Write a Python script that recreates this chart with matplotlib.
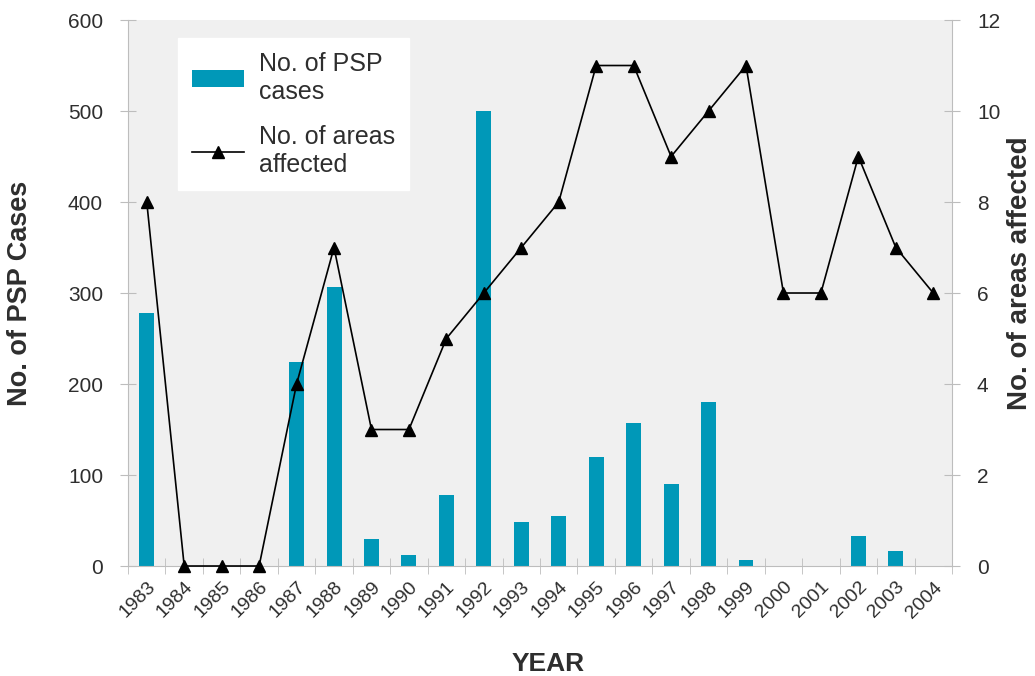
import numpy as np
import matplotlib.pyplot as plt

plt.rcParams['font.family'] = ['Liberation Sans', 'DejaVu Sans']

years = [str(y) for y in range(1983, 2005)]
psp_cases = [278, 0, 0, 0, 224, 307, 30, 12, 78, 500, 48, 55,
             120, 157, 90, 180, 7, 0, 0, 33, 17, 0]
areas = [8, 0, 0, 0, 4, 7, 3, 3, 5, 6, 7, 8,
         11, 11, 9, 10, 11, 6, 6, 9, 7, 6]

teal = '#0098b8'
grey = '#bdbdbd'
txt = '#2e2e2e'

fig = plt.figure(figsize=(10.35, 6.76), dpi=100)
ax = fig.add_axes([0.1237, 0.1627, 0.7961, 0.8077])
ax.set_facecolor('#f0f0f0')

x = np.arange(len(years))
bars = ax.bar(x, psp_cases, width=0.4, color=teal, zorder=2)
ax.set_xlim(-0.5, len(years) - 0.5)
ax.set_ylim(0, 600)
ax.set_yticks(range(0, 601, 100))

ax2 = ax.twinx()
line, = ax2.plot(x, areas, color='black', lw=1.2, marker='^', ms=8,
                 zorder=3, clip_on=False)
ax2.set_ylim(0, 12)
ax2.set_yticks(range(0, 13, 2))

for a in (ax, ax2):
    for s in a.spines.values():
        s.set_visible(False)
ax.spines['left'].set_visible(True)
ax.spines['left'].set_color(grey)
ax.spines['bottom'].set_visible(True)
ax.spines['bottom'].set_color(grey)
ax2.spines['right'].set_visible(True)
ax2.spines['right'].set_color(grey)

ax.set_xticks(x)
ax.set_xticklabels(years, rotation=45, ha='right', rotation_mode='anchor',
                   fontsize=14, color=txt)
ax.tick_params(axis='x', length=0, pad=9)
ax.set_xticks(np.arange(-0.5, len(years), 1), minor=True)
ax.tick_params(axis='x', which='minor', length=12, direction='inout',
               color=grey)
ax.tick_params(axis='y', labelsize=15, labelcolor=txt, color=grey,
               length=12, direction='inout', pad=12)
ax2.tick_params(axis='y', labelsize=15, labelcolor=txt, color=grey,
                length=12, direction='inout', pad=12)

ax.set_ylabel('No. of PSP Cases', fontsize=19.5, fontweight='bold', color=txt)
ax.yaxis.set_label_coords(-0.1153, 0.5)
ax2.set_ylabel('No. of areas affected', fontsize=20, fontweight='bold',
               color=txt, rotation=90)
ax2.yaxis.set_label_coords(1.0667, 0.537)
ax.set_xlabel('YEAR', fontsize=19, fontweight='bold', color=txt)
ax.xaxis.set_label_coords(0.51, -0.1575)

leg = ax2.legend([bars, line], ['No. of PSP\ncases', 'No. of areas\naffected'],
                 loc='upper left', bbox_to_anchor=(0.0607, 0.967),
                 borderaxespad=0, fontsize=18, frameon=True, fancybox=False,
                 edgecolor='white', framealpha=1, handlelength=2.1,
                 handletextpad=0.6, labelspacing=0.85, borderpad=0.55,
                 handleheight=0.65)
for t in leg.get_texts():
    t.set_color(txt)

fig.savefig('out.png', dpi=100)
